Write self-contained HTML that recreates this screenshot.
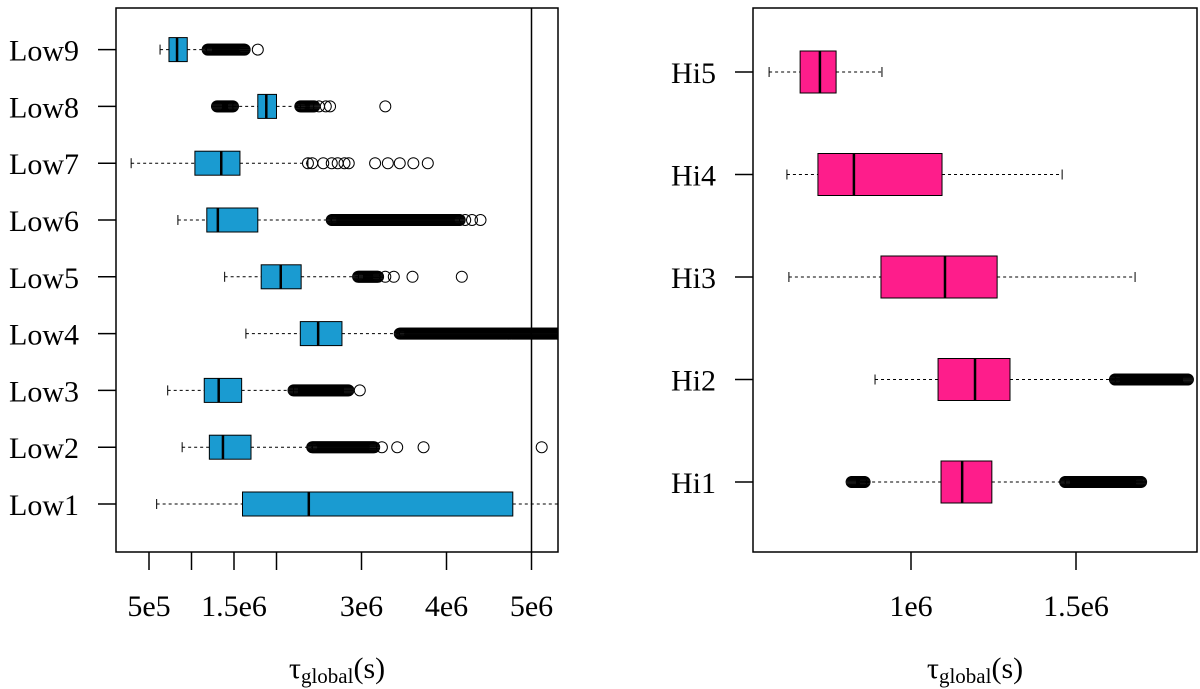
<!DOCTYPE html>
<html><head><meta charset="utf-8"><style>
body{margin:0;background:#fff}
svg{display:block;font-family:"Liberation Serif",serif}
</style></head><body>
<svg id="c" width="1200" height="689"></svg>
<script>
const lowCats=["Low1","Low2","Low3","Low4","Low5","Low6","Low7","Low8","Low9"];
const lowWlo=[0.59e6,0.89e6,0.72e6,1.64e6,1.39e6,0.84e6,0.29e6,1.49e6,0.63e6];
const lowQ1=[1.60e6,1.21e6,1.15e6,2.28e6,1.82e6,1.18e6,1.04e6,1.78e6,0.735e6];
const lowMed=[2.38e6,1.37e6,1.32e6,2.49e6,2.05e6,1.31e6,1.35e6,1.88e6,0.83e6];
const lowQ3=[4.78e6,1.70e6,1.59e6,2.77e6,2.29e6,1.78e6,1.57e6,2.00e6,0.95e6];
const lowWhi=[6.0e6,2.42e6,2.20e6,3.45e6,2.96e6,2.65e6,2.37e6,2.28e6,1.18e6];
const lowDense=[null,[2.42e6,3.15e6],[2.20e6,2.85e6],[3.45e6,6.0e6],[2.96e6,3.20e6],[2.65e6,4.16e6],null,[2.28e6,2.45e6],[1.19e6,1.63e6]];
const lowDenseLo=[null,null,null,null,null,null,null,[1.30e6,1.49e6],null];
const lowSingles=[[],[3.24e6,3.42e6,3.73e6,5.12e6],[2.98e6],[],[3.28e6,3.38e6,3.60e6,4.18e6],[4.22e6,4.30e6,4.40e6],[2.37e6,2.42e6,2.55e6,2.65e6,2.72e6,2.80e6,2.85e6,3.16e6,3.31e6,3.45e6,3.61e6,3.78e6],[2.50e6,2.58e6,2.63e6,3.28e6],[1.78e6]];
const lowTicks=[5e5,1e6,1.5e6,2e6,3e6,4e6,5e6];
const lowTickLabels=["5e5","","1.5e6","","3e6","4e6","5e6"];
const vline=5e6;
const hiCats=["Hi1","Hi2","Hi3","Hi4","Hi5"];
const hiWlo=[0.864e6,0.891e6,0.63e6,0.624e6,0.57e6];
const hiQ1=[1.091e6,1.082e6,0.909e6,0.718e6,0.664e6];
const hiMed=[1.155e6,1.194e6,1.103e6,0.827e6,0.724e6];
const hiQ3=[1.245e6,1.30e6,1.261e6,1.094e6,0.773e6];
const hiWhi=[1.467e6,1.618e6,1.679e6,1.458e6,0.912e6];
const hiDense=[[1.467e6,1.70e6],[1.618e6,1.84e6],null,null,null];
const hiDenseLo=[[0.82e6,0.862e6],null,null,null,null];
const hiTicks=[1e6,1.5e6];
const hiTickLabels=["1e6","1.5e6"];

const svg=document.getElementById('c');
const NS="http://www.w3.org/2000/svg";
function mk(t,a,p,name){const e=document.createElementNS(NS,t);for(const k in a)e.setAttribute(k,a[k]);


(p||svg).appendChild(e);return e;}

function panel(o){
  const g=mk('g',{},svg,o.name);
  const sx=v=>o.x0+(v-o.v0)*o.k;
  const sy=i=>o.yBottom-i*o.step;
  const clip=mk('clipPath',{id:o.name+'-clip'},g,o.name+'-clip');
  mk('rect',{x:o.L,y:o.T,width:o.R-o.L,height:o.B-o.T},clip,'clip-rect');
  const inner=mk('g',{'clip-path':'url(#'+o.name+'-clip)'},g,o.name+'-plot-area');
  if(o.vline!=null) mk('line',{x1:sx(o.vline),x2:sx(o.vline),y1:o.T,y2:o.B,stroke:'#000','stroke-width':1.5},inner,'reference-line');
  o.cats.forEach((c,i)=>{
    const y=sy(i),h=o.bh/2;
    const bg=mk('g',{},inner,'box-'+c.toLowerCase());
    mk('line',{x1:sx(o.wlo[i]),x2:sx(o.q1[i]),y1:y,y2:y,stroke:'#000','stroke-dasharray':'3,3'},bg,'whisker-low');
    mk('line',{x1:sx(o.q3[i]),x2:sx(o.whi[i]),y1:y,y2:y,stroke:'#000','stroke-dasharray':'3,3'},bg,'whisker-high');
    mk('line',{x1:sx(o.wlo[i]),x2:sx(o.wlo[i]),y1:y-5,y2:y+5,stroke:'#000'},bg,'whisker-cap-low');
    mk('line',{x1:sx(o.whi[i]),x2:sx(o.whi[i]),y1:y-5,y2:y+5,stroke:'#000'},bg,'whisker-cap-high');
    mk('rect',{x:sx(o.q1[i]),y:y-h,width:sx(o.q3[i])-sx(o.q1[i]),height:o.bh,fill:o.color,stroke:'#000','stroke-width':1},bg,'iqr-box');
    mk('line',{x1:sx(o.med[i]),x2:sx(o.med[i]),y1:y-h,y2:y+h,stroke:'#000','stroke-width':2.5},bg,'median-line');
    [o.dense[i],o.denseLo[i]].forEach(r=>{ if(!r)return;
      for(let px=sx(r[0]);px<=sx(r[1]);px+=1)
        mk('circle',{cx:px,cy:y,r:5.5,fill:'none',stroke:'#000','stroke-width':1},bg,'outlier');
    });
    (o.singles?o.singles[i]:[]).forEach(v=>mk('circle',{cx:sx(v),cy:y,r:5.5,fill:'none',stroke:'#000','stroke-width':1},bg,'outlier'));
    const t=mk('text',{x:o.L-37,y:y+11,'text-anchor':'end','font-size':30},g,'y-tick-label');t.textContent=c;
    mk('line',{x1:o.L-18,x2:o.L,y1:y,y2:y,stroke:'#000','stroke-width':1.5},g,'y-tick');
  });
  mk('rect',{x:o.L,y:o.T,width:o.R-o.L,height:o.B-o.T,fill:'none',stroke:'#000','stroke-width':1.5},g,'plot-frame');
  o.ticks.forEach((v,j)=>{
    mk('line',{x1:sx(v),x2:sx(v),y1:o.B,y2:o.B+18,stroke:'#000','stroke-width':1.5},g,'x-tick');
    if(o.tickLabels[j]){const t=mk('text',{x:sx(v),y:616,'text-anchor':'middle','font-size':30},g,'x-tick-label');t.textContent=o.tickLabels[j];}
  });
  const t=mk('text',{x:(o.L+o.R)/2,y:678,'text-anchor':'middle','font-size':30},g,'x-axis-title');
  t.innerHTML='τ<tspan font-size="21" dy="5">global</tspan><tspan dy="-5">(s)</tspan>';
}
panel({name:'low-panel',L:116,R:558,T:8,B:552,x0:149,v0:5e5,k:85/1e6,yBottom:504,step:56.8,bh:24,color:'#1a9bd1',
  cats:lowCats,wlo:lowWlo,q1:lowQ1,med:lowMed,q3:lowQ3,whi:lowWhi,dense:lowDense,denseLo:lowDenseLo,singles:lowSingles,
  ticks:lowTicks,tickLabels:lowTickLabels,vline:vline});
panel({name:'hi-panel',L:753,R:1197,T:8,B:552,x0:911,v0:1e6,k:330/1e6,yBottom:482,step:102.5,bh:42,color:'#fe1d8b',
  cats:hiCats,wlo:hiWlo,q1:hiQ1,med:hiMed,q3:hiQ3,whi:hiWhi,dense:hiDense,denseLo:hiDenseLo,singles:null,
  ticks:hiTicks,tickLabels:hiTickLabels,vline:null});
</script>
</body></html>
